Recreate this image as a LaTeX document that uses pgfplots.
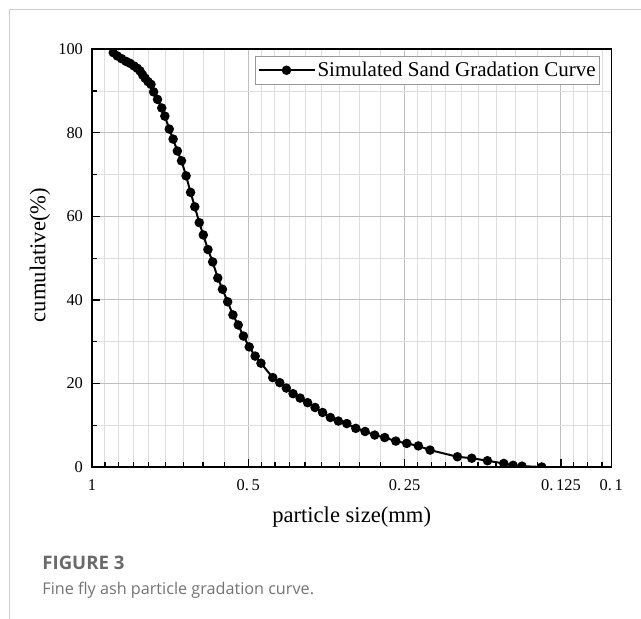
\documentclass[border=0pt]{standalone}
\usepackage{fontspec}
\setmainfont{Liberation Serif}
\newfontfamily\capfont{Open Sans}
\usepackage{pgfplots}
\usepackage{pgfplotstable}
\pgfplotsset{compat=1.18}
\definecolor{majgrid}{RGB}{190,190,190}
\definecolor{mingrid}{RGB}{222,222,222}
\definecolor{capgray}{RGB}{105,105,105}
\definecolor{captext}{RGB}{115,115,115}
\definecolor{framegray}{RGB}{205,205,205}
\pgfplotstableread{
d cum
0.910 99.2
0.894 98.4
0.877 97.75
0.860 97.1
0.845 96.65
0.830 96.0
0.818 95.45
0.808 94.8
0.799 93.85
0.790 93.05
0.780 92.25
0.770 91.6
0.761 89.8
0.748 88.0
0.734 85.95
0.724 84.0
0.710 80.9
0.698 78.5
0.685 75.65
0.6725 73.3
0.659 69.7
0.646 65.75
0.634 62.3
0.6215 58.5
0.6105 55.55
0.598 52.05
0.5857 49.1
0.5726 45.25
0.5608 42.55
0.548 39.55
0.5353 36.4
0.5229 34.0
0.511 31.35
0.498 28.75
0.4851 26.55
0.4728 24.85
0.4487 21.4
0.435 20.2
0.4225 18.9
0.4101 17.55
0.3975 16.5
0.3845 15.4
0.372 14.25
0.3598 13.05
0.3476 11.85
0.3355 11.0
0.3231 10.4
0.3105 9.25
0.298 8.5
0.2855 7.65
0.2731 7.05
0.26 6.2
0.2477 5.65
0.2353 5.05
0.2234 4.05
0.1979 2.45
0.1857 2.1
0.1732 1.5
0.1611 0.85
0.1546 0.4
0.1486 0.2
0.1361 0.0
}\sanddata
\begin{document}
\begin{tikzpicture}[x=0.5pt,y=0.5pt]
\useasboundingbox (0,0) rectangle (641,619);
\draw[framegray, line width=0.5pt] (9,0) -- (9,609) -- (641,609);
\begin{axis}[
  at={(46pt,76pt)}, anchor=south west,
  scale only axis,
  width=259.65pt, height=208.85pt,
  xmode=log, x dir=reverse,
  xmin=0.1, xmax=1, ymin=0, ymax=100,
  xtick={1,0.5,0.25,0.125,0.1},
  xticklabels={1,{0.\,5},{0.\,25},{0.\,125},{0.\,1}},
  minor xtick={0.5556,0.6111,0.6667,0.7222,0.7778,0.8333,0.8889,0.9444,
    0.2778,0.3056,0.3333,0.3611,0.3889,0.4167,0.4444,0.4722,
    0.1389,0.1528,0.1667,0.1806,0.1944,0.2083,0.2222,0.2361,
    0.1181,0.1111,0.1042},
  ytick={0,20,40,60,80,100},
  minor ytick={10,30,50,70,90},
  grid=both,
  major grid style={majgrid, line width=0.5pt},
  minor grid style={mingrid, line width=0.5pt},
  tick align=inside, xtick pos=bottom, ytick pos=left,
  major tick length=4.2pt, minor tick length=2.3pt,
  tick style={black, line width=0.6pt},
  axis line style={black, line width=0.8pt},
  /pgf/number format/assume math mode=true,
  ticklabel style={font=\fontsize{8.2}{10}\selectfont},
  xticklabel style={yshift=-3pt},
  yticklabel style={xshift=-1pt},
  xlabel={particle size(mm)},
  ylabel={cumulative(\%)},
  label style={font=\fontsize{11.3}{13}\selectfont},
  xlabel style={at={(axis description cs:0.5,-0.1197)}, anchor=center},
  ylabel style={at={(axis description cs:-0.1001,0.5075)}, anchor=center},
  clip marker paths=true,
  legend style={at={(1,1)}, anchor=north east, xshift=-5.6pt, yshift=-3.4pt,
    draw=gray!80, line width=0.4pt, inner xsep=1pt, inner ysep=1.5pt,
    nodes={inner sep=1pt},
    font=\fontsize{10.5}{12}\selectfont},
  legend cell align=left,
  legend image code/.code={\draw[mark repeat=2,mark phase=2,#1] plot coordinates {(0pt,0pt) (14pt,0pt) (28pt,0pt)};},
]
\addplot[black, line width=1pt, mark=*, mark size=1.85pt, mark options={fill=black, solid}] table[x=d, y=cum] {\sanddata};
\addlegendentry{Simulated Sand Gradation Curve}
\end{axis}
\node[anchor=base west, inner sep=0, text=capgray, font=\capfont\bfseries\fontsize{9.3}{11}\selectfont] at (42,49) {FIGURE 3};
\node[anchor=base west, inner sep=0, text=captext, font=\capfont\fontsize{8.1}{10}\selectfont] at (42,24.7) {Fine fly ash particle gradation curve.};
\end{tikzpicture}
\end{document}
